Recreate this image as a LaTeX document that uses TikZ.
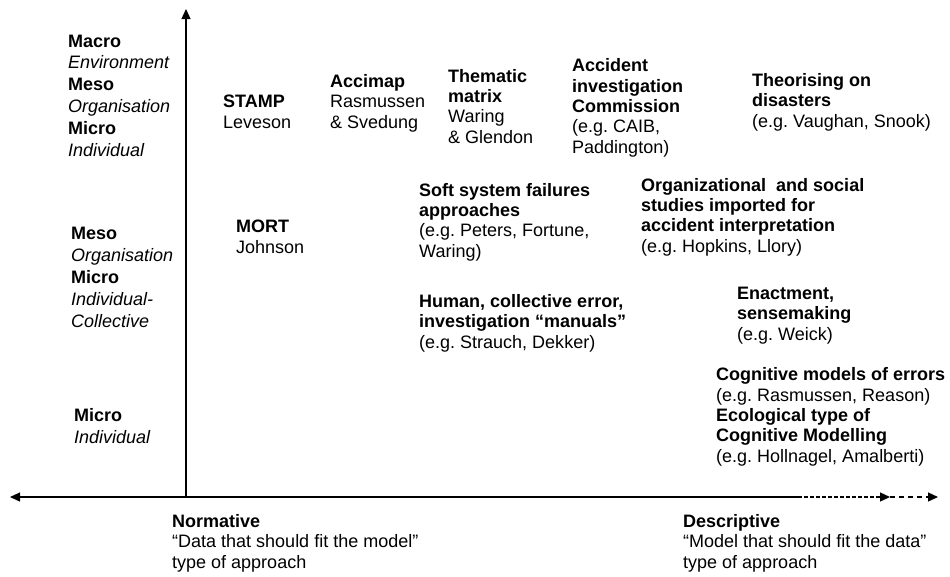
\documentclass[tikz,border=0pt]{standalone}
\usepackage{fontspec}
\setmainfont{Liberation Sans}
\usetikzlibrary{arrows.meta}
\frenchspacing
\begin{document}
\begin{tikzpicture}[x=1pt,y=-1pt,
  lbl/.style={anchor=base west, align=left, inner sep=0pt, font=\fontsize{18}{20.3}\selectfont},
  lvl/.style={lbl, font=\fontsize{18}{21.8}\selectfont},
  tip/.style={-{Triangle[length=10pt,width=9pt]}},
  axisline/.style={line width=1.2pt, tip},
]
\useasboundingbox (0,0) rectangle (950,576);
% axes
\coordinate (O) at (186,497);
\coordinate (T) at (186,9);
\coordinate (L) at (10,497);
\coordinate (S) at (798,497);
\coordinate (D1) at (890,497);
\coordinate (D2) at (938,497);
\draw[axisline] (O) -- (T);
\draw[axisline] (S) -- (L);
\draw[axisline, dash pattern=on 4pt off 2pt] (S) -- (D1);
\draw[axisline, dash pattern=on 5pt off 4pt] (D1) -- (D2);
% level labels (positions are baselines of last lines)
\node[lvl] (lv1) at (68,156) {\textbf{Macro}\\\textit{Environment}\\\textbf{Meso}\\\textit{Organisation}\\\textbf{Micro}\\\textit{Individual}};
\node[lvl] (lv2) at (71,327) {\textbf{Meso}\\\textit{Organisation}\\\textbf{Micro}\\\textit{Individual-}\\\textit{Collective}};
\node[lvl] (lv3) at (74,443) {\textbf{Micro}\\\textit{Individual}};
% approaches
\node[lbl] (stamp) at (223,128) {\textbf{STAMP}\\Leveson};
\node[lbl] (mort) at (236,253) {\textbf{MORT}\\Johnson};
\node[lbl] (accimap) at (330,128) {\textbf{Accimap}\\Rasmussen\\\& Svedung};
\node[lbl] (thematic) at (448,143) {\textbf{Thematic}\\\textbf{matrix}\\Waring\\\& Glendon};
\node[lbl] (aic) at (572,153) {\textbf{Accident}\\\textbf{investigation}\\\textbf{Commission}\\(e.g. CAIB,\\Paddington)};
\node[lbl] (theor) at (752,127) {\textbf{Theorising on}\\\textbf{disasters}\\(e.g. Vaughan, Snook)};
\node[lbl] (soft) at (419,257) {\textbf{Soft system failures}\\\textbf{approaches}\\(e.g. Peters, Fortune,\\Waring)};
\node[lbl] (org) at (641,252) {\textbf{Organizational~ and social}\\\textbf{studies imported for}\\\textbf{accident interpretation}\\(e.g. Hopkins, Llory)};
\node[lbl] (human) at (419,348) {\textbf{Human, collective error,}\\\textbf{investigation “manuals”}\\(e.g. Strauch, Dekker)};
\node[lbl] (enact) at (737,340) {\textbf{Enactment,}\\\textbf{sensemaking}\\(e.g. Weick)};
\node[lbl] (cog) at (716,462) {\textbf{Cognitive models of errors}\\(e.g. Rasmussen, Reason)\\\textbf{Ecological type of}\\\textbf{Cognitive Modelling}\\(e.g. Hollnagel, Amalberti)};
% axis end labels
\node[lbl] (norm) at (172,568) {\textbf{Normative}\\“Data that should fit the model”\\type of approach};
\node[lbl] (desc) at (683,568) {\textbf{Descriptive}\\“Model that should fit the data”\\type of approach};
\end{tikzpicture}
\end{document}
